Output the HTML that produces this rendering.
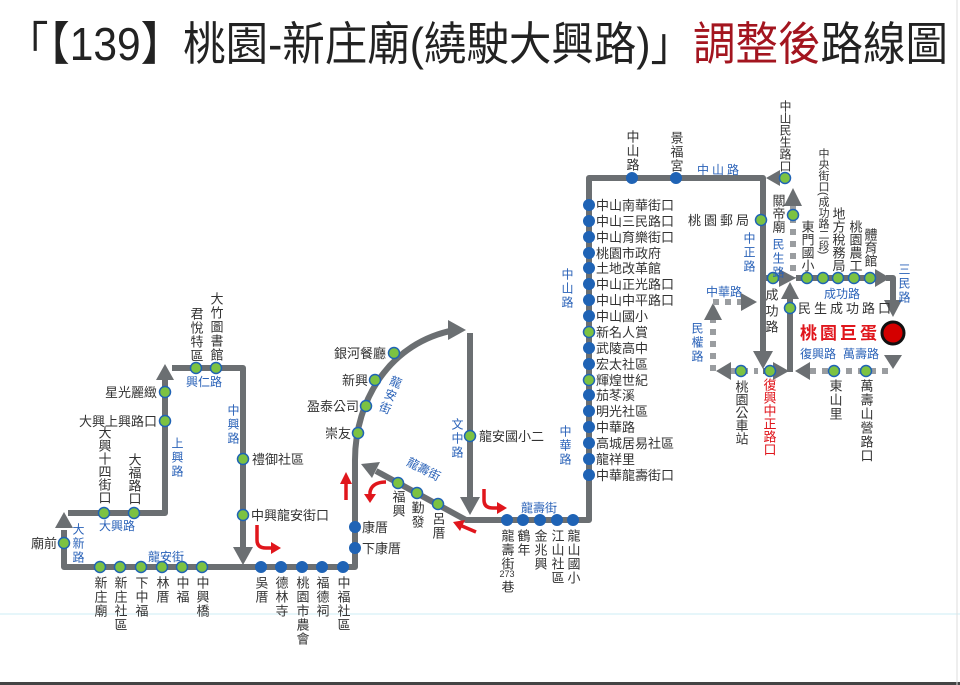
<!DOCTYPE html>
<html><head><meta charset="utf-8">
<style>
html,body{margin:0;padding:0;background:#fff;}
svg{display:block;}
text{font-family:"Liberation Sans","Noto Sans CJK TC",sans-serif;}
.s{font-size:13px;fill:#333;}
.v{font-size:13px;fill:#333;writing-mode:vertical-rl;letter-spacing:1px;}
.b{font-size:12px;fill:#2a62b8;}
.bv{font-size:12px;fill:#2a62b8;writing-mode:vertical-rl;letter-spacing:2px;}
.ln{fill:none;stroke:#6b6f72;stroke-width:6;stroke-linejoin:round;}
.dl{fill:none;stroke:#9a9da0;stroke-width:6;stroke-dasharray:6 6;}
.ah{fill:#6b6f72;}
.bs{fill:#1f63b5;}
.gs{fill:#7cc242;stroke:#1f63b5;stroke-width:1.5;}
.ra{fill:none;stroke:#e0161c;stroke-width:3.5;}
.rh{fill:#e0161c;}
</style></head><body>
<svg width="960" height="685" viewBox="0 0 960 685" xmlns="http://www.w3.org/2000/svg">
<rect width="960" height="685" fill="#fff"/>
<!-- title -->
<text x="6" y="60" font-size="46" textLength="942" lengthAdjust="spacingAndGlyphs" style="font-family:'Liberation Sans','Noto Sans CJK TC',sans-serif" fill="#222">「【139】桃園-新庄廟(繞駛大興路)」<tspan fill="#a3151f">調整後</tspan>路線圖</text>
<line x1="0" y1="614" x2="960" y2="614" stroke="#cdeef5" stroke-width="1"/>
<rect x="0" y="682" width="960" height="3" fill="#444"/>
<line x1="957" y1="0" x2="957" y2="685" stroke="#ddd" stroke-width="1"/>

<!-- lines left -->
<path class="ln" d="M64,530 L64,567 L355,567 L355,460 C355,400 390,342 455,330"/>
<polygon class="ah" points="55,528 73,528 64,512"/>
<polygon class="ah" points="448,320 466,330 448,340"/>
<path class="ln" d="M68,513 L165,513 L165,378"/>
<polygon class="ah" points="156,380 174,380 165,364"/>
<path class="ln" d="M172,368 L243,368 L243,548"/>
<polygon class="ah" points="233,547 253,547 243,565"/>
<path class="ln" d="M470,333 L470,498"/>
<polygon class="ah" points="460,497 480,497 470,515"/>
<path class="ln" d="M376,471 L466,520 L589,520 L589,178 L763,178 L763,352"/>
<polygon class="ah" points="380,462 372,478 361,464"/>
<polygon class="ah" points="753,351 773,351 763,369"/>
<!-- right side -->
<polygon class="ah" points="780,170 780,186 766,178"/>
<path class="dl" d="M793,205 L793,278"/>
<polygon class="ah" points="784,206 802,206 793,188"/>
<path class="ln" d="M763,278 L780,278"/>
<polygon class="ah" points="779,269 779,287 796,278"/>
<path class="ln" d="M796,278 L876,278"/>
<polygon class="ah" points="875,269 875,287 890,278"/>
<path class="ln" d="M886,278 L893,278 L893,302"/>
<polygon class="ah" points="884,300 902,300 893,317"/>
<circle cx="893" cy="333" r="11" fill="#d40000" stroke="#111" stroke-width="3"/>
<path class="ln" d="M790,372 L790,298"/>
<polygon class="ah" points="781,299 799,299 790,282"/>
<polygon class="ah" points="884,355 902,355 893,369"/>
<path class="dl" d="M810,371 L893,371"/>
<polygon class="ah" points="810,362 810,380 795,371"/>
<path class="ln" d="M763,371 L775,371"/>
<polygon class="ah" points="773,362 773,380 789,371"/>
<path class="dl" d="M730,371 L758,371"/>
<polygon class="ah" points="731,362 731,380 716,371"/>
<path class="dl" d="M713,371 L713,318"/>
<polygon class="ah" points="704,320 722,320 713,303"/>
<path class="dl" d="M713,302 L742,302"/>
<polygon class="ah" points="741,293 741,311 757,302"/>

<!-- red arrows -->
<path class="ra" d="M257,525 L257,540 Q257,548 266,548 L272,548"/>
<polygon class="rh" points="271,542 271,554 281,548"/>
<path class="ra" d="M346,500 L346,482"/>
<polygon class="rh" points="340,484 352,484 346,472"/>
<path class="ra" d="M386,482 Q372,482 370,492 L370,495"/>
<polygon class="rh" points="364,494 376,494 370,503"/>
<path class="ra" d="M484,489 L484,500 Q484,508 493,508 L498,508"/>
<polygon class="rh" points="497,502 497,514 507,508"/>
<path class="ra" d="M476,532 L462,526"/>
<polygon class="rh" points="465,520 460,531 453,522"/>

<!-- stops -->
<g class="gs">
<circle cx="64" cy="543" r="5.5"/>
<circle cx="100" cy="567" r="5.5"/><circle cx="120" cy="567" r="5.5"/><circle cx="141" cy="567" r="5.5"/><circle cx="162" cy="567" r="5.5"/><circle cx="182" cy="567" r="5.5"/><circle cx="202" cy="567" r="5.5"/>
<circle cx="104" cy="513" r="5.5"/><circle cx="134" cy="513" r="5.5"/>
<circle cx="165" cy="392" r="5.5"/><circle cx="165" cy="421" r="5.5"/>
<circle cx="196" cy="368" r="5.5"/><circle cx="216" cy="368" r="5.5"/>
<circle cx="243" cy="459" r="5.5"/><circle cx="243" cy="515" r="5.5"/>
<circle cx="358" cy="433" r="5.5"/><circle cx="366" cy="406" r="5.5"/><circle cx="375" cy="380" r="5.5"/><circle cx="394" cy="353" r="5.5"/>
<circle cx="470" cy="436" r="5.5"/>
<circle cx="398" cy="483" r="5.5"/><circle cx="417" cy="493" r="5.5"/><circle cx="438" cy="504" r="5.5"/>
<circle cx="589" cy="332" r="5.5"/><circle cx="589" cy="380" r="5.5"/>
<circle cx="785" cy="178" r="5.5"/><circle cx="793" cy="215" r="5.5"/><circle cx="761" cy="220" r="5.5"/>
<circle cx="773" cy="278" r="5.5"/><circle cx="807" cy="278" r="5.5"/><circle cx="823" cy="278" r="5.5"/><circle cx="838" cy="278" r="5.5"/><circle cx="854" cy="278" r="5.5"/><circle cx="870" cy="278" r="5.5"/>
<circle cx="790" cy="308" r="5.5"/>
<circle cx="741" cy="371" r="5.5"/><circle cx="770" cy="371" r="5.5"/><circle cx="834" cy="371" r="5.5"/><circle cx="866" cy="371" r="5.5"/>
</g>
<g class="bs">
<circle cx="261" cy="567" r="6"/><circle cx="281" cy="567" r="6"/><circle cx="302" cy="567" r="6"/><circle cx="322" cy="567" r="6"/><circle cx="343" cy="567" r="6"/>
<circle cx="355" cy="527" r="6"/><circle cx="355" cy="548" r="6"/>
<circle cx="507" cy="520" r="6"/><circle cx="523" cy="520" r="6"/><circle cx="540" cy="520" r="6"/><circle cx="557" cy="520" r="6"/><circle cx="573" cy="520" r="6"/>
<circle cx="632" cy="178" r="6"/><circle cx="676" cy="178" r="6"/>
<circle cx="589" cy="205" r="6"/><circle cx="589" cy="221" r="6"/><circle cx="589" cy="237" r="6"/><circle cx="589" cy="253" r="6"/><circle cx="589" cy="268" r="6"/><circle cx="589" cy="284" r="6"/><circle cx="589" cy="300" r="6"/><circle cx="589" cy="316" r="6"/>
<circle cx="589" cy="348" r="6"/><circle cx="589" cy="364" r="6"/><circle cx="589" cy="395" r="6"/><circle cx="589" cy="411" r="6"/><circle cx="589" cy="427" r="6"/><circle cx="589" cy="443" r="6"/><circle cx="589" cy="459" r="6"/><circle cx="589" cy="475" r="6"/>
</g>

<!-- labels left -->
<text class="s" x="57" y="548" text-anchor="end">廟前</text>
<text class="v" x="100" y="576">新庄廟</text>
<text class="v" x="120" y="576">新庄社區</text>
<text class="v" x="141" y="576">下中福</text>
<text class="v" x="162" y="576">林厝</text>
<text class="v" x="182" y="576">中福</text>
<text class="v" x="202" y="576">中興橋</text>
<text class="v" x="261" y="576">吳厝</text>
<text class="v" x="281" y="576">德林寺</text>
<text class="v" x="302" y="576">桃園市農會</text>
<text class="v" x="322" y="576">福德祠</text>
<text class="v" x="343" y="576">中福社區</text>
<text class="b" x="148" y="561">龍安街</text>
<text class="bv" x="78" y="523">大新路</text>
<text class="b" x="99" y="530">大興路</text>
<text class="v" x="104" y="426" style="letter-spacing:0">大興十四街口</text>
<text class="v" x="134" y="453" style="letter-spacing:0">大福路口</text>
<text class="bv" x="177" y="437">上興路</text>
<text class="s" x="157" y="397" text-anchor="end">星光麗緻</text>
<text class="s" x="157" y="426" text-anchor="end">大興上興路口</text>
<text class="v" x="196" y="307">君悅特區</text>
<text class="v" x="216" y="292">大竹圖書館</text>
<text class="b" x="186" y="386">興仁路</text>
<text class="bv" x="233" y="404">中興路</text>
<text class="s" x="252" y="464">禮御社區</text>
<text class="s" x="251" y="520">中興龍安街口</text>

<!-- labels middle -->
<text class="s" x="362" y="532">康厝</text>
<text class="s" x="362" y="553">下康厝</text>
<text class="s" x="351" y="438" text-anchor="end">崇友</text>
<text class="s" x="359" y="411" text-anchor="end">盈泰公司</text>
<text class="s" x="368" y="385" text-anchor="end">新興</text>
<text class="s" x="386" y="358" text-anchor="end">銀河餐廳</text>
<text class="bv" x="392" y="375" transform="rotate(22 392 390)">龍安街</text>
<text class="bv" x="457" y="418">文中路</text>
<text class="s" x="479" y="441">龍安國小二</text>
<text class="b" x="404" y="472" transform="rotate(27 420 472)">龍壽街</text>
<text class="v" x="398" y="490">福興</text>
<text class="v" x="417" y="501">勤發</text>
<text class="v" x="438" y="512">呂厝</text>
<text class="b" x="521" y="512">龍壽街</text>
<text class="v" x="507" y="529">龍壽街</text>
<text x="507" y="577" font-size="9" fill="#333" text-anchor="middle">273</text>
<text class="v" x="507" y="580">巷</text>
<text class="v" x="523" y="529">鶴年</text>
<text class="v" x="540" y="529">金兆興</text>
<text class="v" x="557" y="529">江山社區</text>
<text class="v" x="573" y="529">龍山國小</text>
<text class="bv" x="567" y="268">中山路</text>
<text class="bv" x="565" y="425">中華路</text>
<g class="s">
<text x="596" y="210">中山南華街口</text>
<text x="596" y="226">中山三民路口</text>
<text x="596" y="242">中山育樂街口</text>
<text x="596" y="258">桃園市政府</text>
<text x="596" y="273">土地改革館</text>
<text x="596" y="289">中山正光路口</text>
<text x="596" y="305">中山中平路口</text>
<text x="596" y="321">中山國小</text>
<text x="596" y="337">新名人賞</text>
<text x="596" y="353">武陵高中</text>
<text x="596" y="369">宏太社區</text>
<text x="596" y="385">輝煌世紀</text>
<text x="596" y="400">茄苳溪</text>
<text x="596" y="416">明光社區</text>
<text x="596" y="432">中華路</text>
<text x="596" y="448">高城居易社區</text>
<text x="596" y="464">龍祥里</text>
<text x="596" y="480">中華龍壽街口</text>
</g>

<!-- labels right -->
<text class="v" x="632" y="130">中山路</text>
<text class="v" x="676" y="131">景福宮</text>
<text class="b" x="697" y="174" letter-spacing="3">中山路</text>
<text class="v" x="785" y="100" style="letter-spacing:0;font-size:12px">中山民生路口</text>
<text class="s" x="752" y="225" text-anchor="end" letter-spacing="3">桃園郵局</text>
<text class="bv" x="749" y="232">中正路</text>
<text class="v" x="778" y="194" style="letter-spacing:0">關帝廟</text>
<text class="bv" x="778" y="238">民生路</text>
<text class="v" x="807" y="220" style="letter-spacing:0">東門國小</text>
<text class="v" x="823" y="148" style="font-size:11px;letter-spacing:0">中央街口(成功路二段)</text>
<text class="v" x="838" y="207" style="letter-spacing:0">地方稅務局</text>
<text class="v" x="855" y="220" style="letter-spacing:0">桃園農工</text>
<text class="v" x="870" y="228" style="letter-spacing:0">體育館</text>
<text class="bv" x="904" y="263">三民路</text>
<text class="b" x="824" y="298">成功路</text>
<text class="s" x="798" y="313" letter-spacing="3">民生成功路口</text>
<text class="v" x="771" y="288" style="letter-spacing:3px">成功路</text>
<text class="b" x="706" y="296">中華路</text>
<text class="bv" x="697" y="322">民權路</text>
<text x="800" y="339" font-size="17" font-weight="bold" fill="#e0161c" letter-spacing="3" style="font-family:'Liberation Sans','Noto Sans CJK TC',sans-serif">桃園巨蛋</text>
<text class="b" x="800" y="358">復興路</text>
<text class="b" x="843" y="358">萬壽路</text>
<text class="v" x="741" y="380" style="letter-spacing:0">桃園公車站</text>
<text class="v" x="769" y="378" style="letter-spacing:0;fill:#e0161c">復興中正路口</text>
<text class="v" x="835" y="379">東山里</text>
<text class="v" x="866" y="379">萬壽山營路口</text>
</svg>
</body></html>
